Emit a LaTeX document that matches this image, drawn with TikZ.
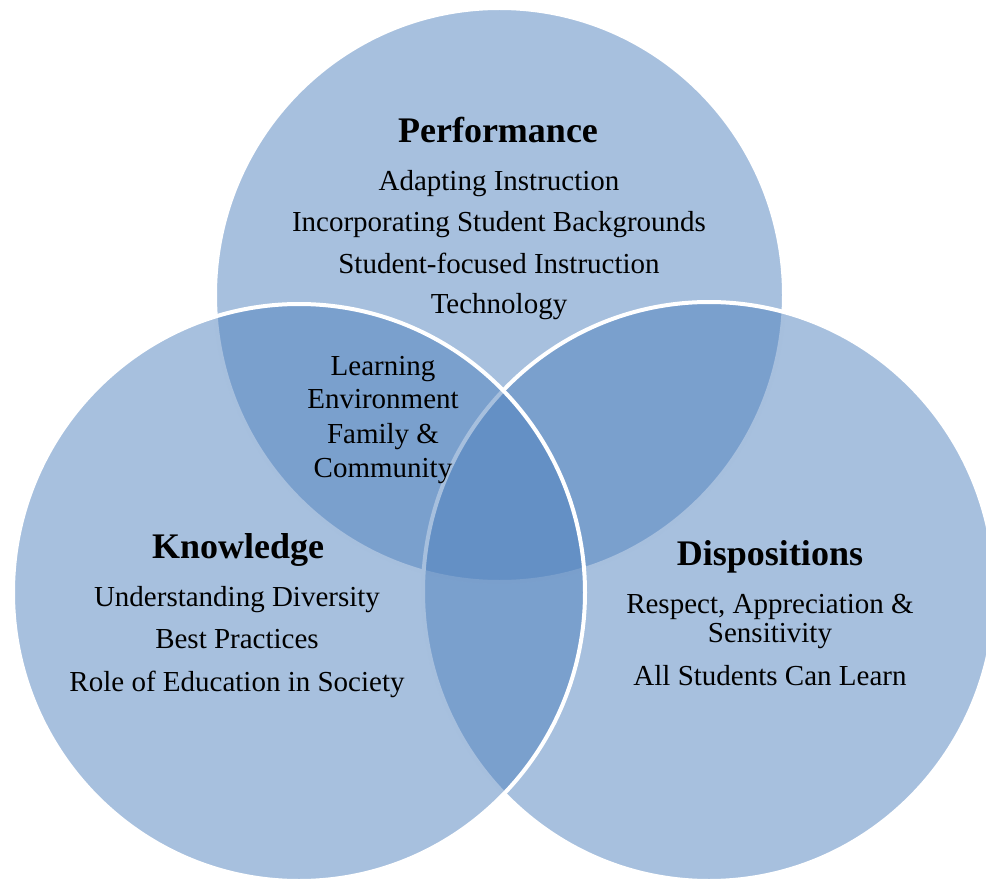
\documentclass[tikz,border=0pt]{standalone}
\usepackage{fontspec}
\setmainfont{Liberation Serif}
\definecolor{vennblue}{HTML}{4F81BD}
\tikzset{
  venn/.style={fill=vennblue, fill opacity=0.5, draw=white, draw opacity=1, line width=4pt},
  head/.style={anchor=base, inner sep=0pt, font=\fontsize{36}{40}\selectfont\bfseries},
  item/.style={anchor=base, inner sep=0pt, font=\fontsize{29}{33}\selectfont},
}
\begin{document}
\begin{tikzpicture}[x=1pt,y=-1pt]
\useasboundingbox (0,0) rectangle (986,880);
\begin{scope}
\clip (0,0) rectangle (986,880);
% circles: top, right, left
\path[venn] (499.5,295) ellipse [x radius=284.5pt, y radius=287pt];
\path[venn] (709,591.5) ellipse [x radius=286pt, y radius=289.5pt];
\path[venn] (299,592.5) ellipse [x radius=286pt, y radius=288.5pt];
\end{scope}
% Performance
\node[head] (perf) at (498,143) {Performance};
\node[item] (p1) at (499,190) {Adapting Instruction};
\node[item] (p2) at (499,231) {Incorporating Student Backgrounds};
\node[item] (p3) at (499,273) {Student-focused Instruction};
\node[item] (p4) at (499,313) {Technology};
% overlap
\node[item] (o1) at (383,375) {Learning};
\node[item] (o2) at (383,408) {Environment};
\node[item] (o3) at (383,443) {Family \&};
\node[item] (o4) at (383,477) {Community};
% Knowledge
\node[head] (know) at (238,558) {Knowledge};
\node[item] (k1) at (237,606) {Understanding Diversity};
\node[item] (k2) at (237,648) {Best Practices};
\node[item] (k3) at (237,691) {Role of Education in Society};
% Dispositions
\node[head] (disp) at (770,565) {Dispositions};
\node[item] (d1) at (770,613) {Respect, Appreciation \&};
\node[item] (d2) at (770,642) {Sensitivity};
\node[item] (d3) at (770,685) {All Students Can Learn};
\end{tikzpicture}
\end{document}
